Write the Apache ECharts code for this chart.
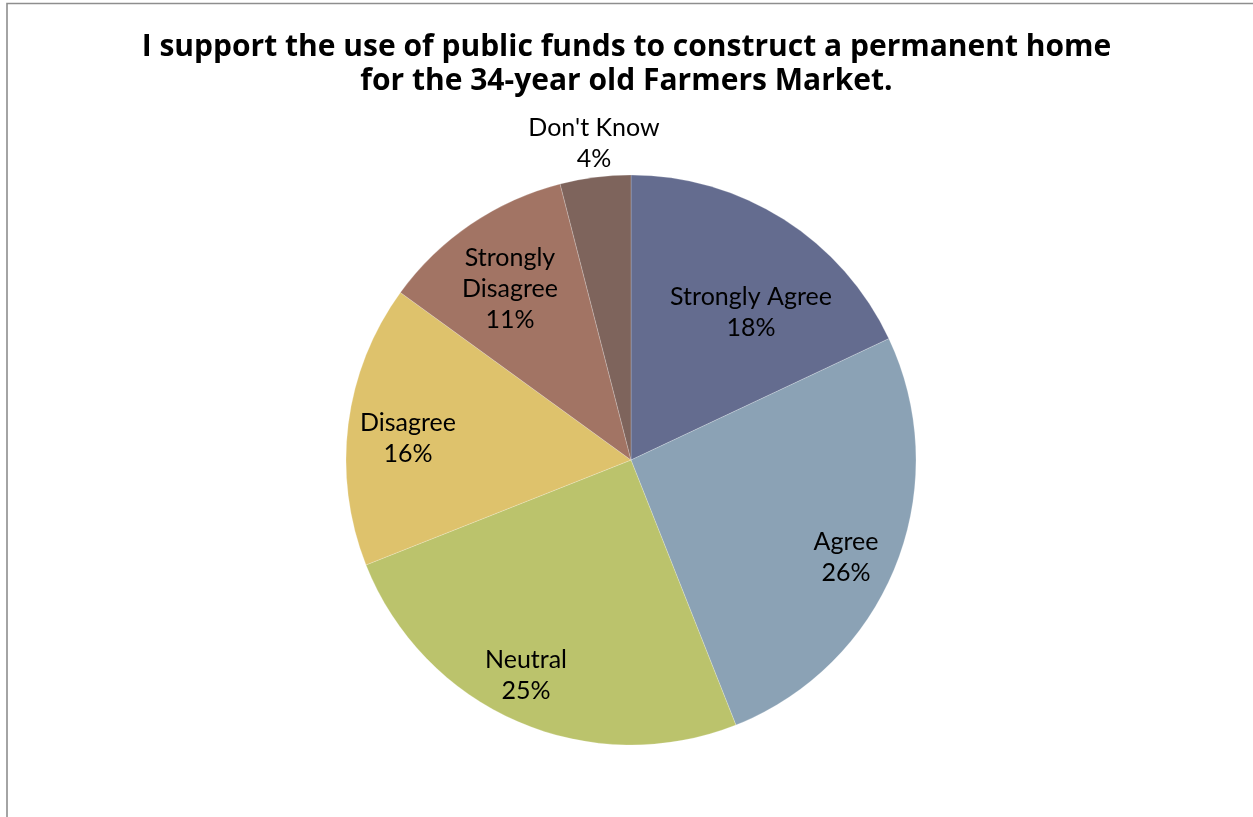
<!DOCTYPE html>
<html>
<head>
<meta charset="utf-8">
<script src="https://cdn.jsdelivr.net/npm/echarts@6/dist/echarts.min.js"></script>
<style>
  html, body { margin: 0; padding: 0; background: #fff; }
  #chart { width: 1253px; height: 817px; }
</style>
</head>
<body>
<div id="chart"></div>
<script>
// Survey responses, percent of respondents
const categories = ['Strongly Agree', 'Agree', 'Neutral', 'Disagree', 'Strongly Disagree', "Don't Know"];
const percents = [18, 26, 25, 16, 11, 4];
const sliceColors = ['#646C8F', '#8BA2B5', '#BBC36C', '#DEC26C', '#A27464', '#7E645C'];

const titleText = 'I support the use of public funds to construct a permanent home\nfor the 34-year old Farmers Market.';

// Pie geometry
const CX = 631, CY = 460, R = 285;
// Label centres, offset from the pie centre in pixels
const labelOffsets = [[120, -148], [215, 97], [-105, 215], [-223, -22], [-121, -171], [-37, -317]];

const chart = echarts.init(document.getElementById('chart'), null, { renderer: 'canvas' });
const font = 'Lato, "Open Sans", sans-serif';

chart.setOption({
  animation: false,
  backgroundColor: '#ffffff',
  title: {
    text: titleText,
    left: 'center',
    top: 25,
    textStyle: {
      fontFamily: '"Open Sans", Lato, sans-serif',
      fontWeight: 'bold',
      fontSize: 30,
      lineHeight: 34,
      color: '#000'
    }
  },
  graphic: [{
    type: 'rect',
    shape: { x: 7, y: 3.5, width: 1400, height: 1000 },
    style: { fill: 'none', stroke: '#8e8e8e', lineWidth: 1.6 },
    silent: true
  }],
  series: [{
    type: 'pie',
    center: [CX, CY],
    radius: [0, R],
    startAngle: 90,
    clockwise: true,
    itemStyle: { borderColor: 'rgba(255,255,255,0.35)', borderWidth: 0.6 },
    label: {
      show: true,
      position: 'inside',
      fontFamily: font,
      fontSize: 25,
      lineHeight: 31,
      color: '#000',
      formatter: p => p.name.replace('Strongly Disagree', 'Strongly\nDisagree') + '\n' + p.value + '%'
    },
    labelLine: { show: false },
    labelLayout: p => {
      const o = labelOffsets[p.dataIndex];
      return { x: CX + o[0], y: CY + o[1], align: 'center', verticalAlign: 'middle' };
    },
    emphasis: { disabled: true },
    data: categories.map((c, i) => ({
      name: c,
      value: percents[i],
      itemStyle: { color: sliceColors[i] }
    }))
  }]
});
</script>
</body>
</html>
